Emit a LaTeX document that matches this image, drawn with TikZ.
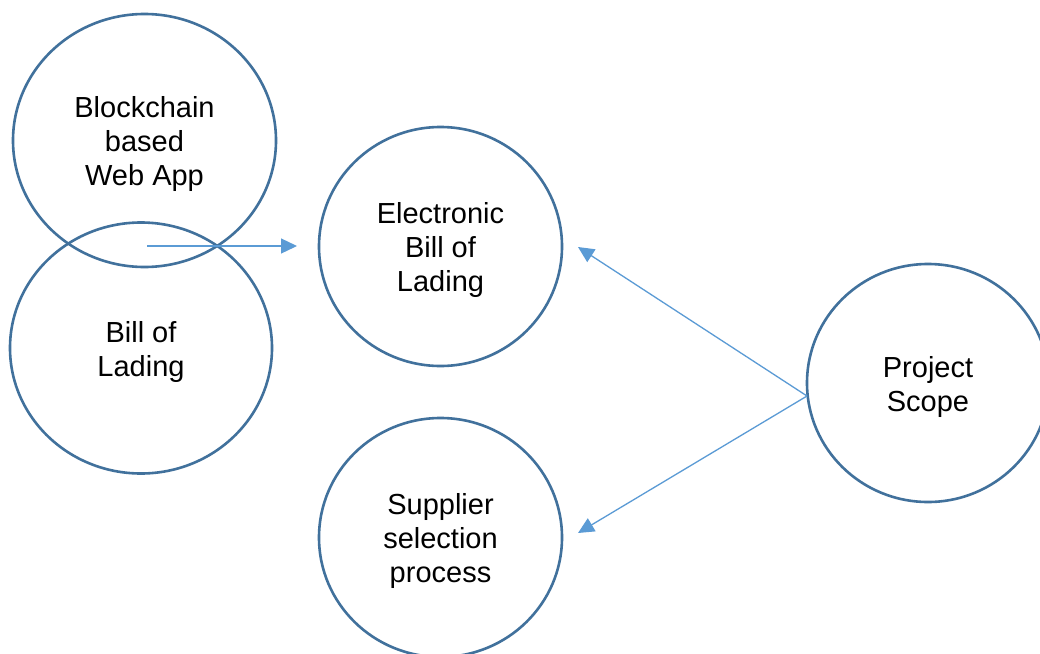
\documentclass[tikz,border=0pt]{standalone}
\usepackage{fontspec}
\setmainfont{Liberation Sans}
\usetikzlibrary{shapes.geometric,arrows.meta}
\definecolor{ringblue}{HTML}{41719C}
\definecolor{linkblue}{HTML}{5B9BD5}
\begin{document}
\begin{tikzpicture}[x=1pt,y=-1pt,
  bubble/.style={ellipse,draw=ringblue,line width=2.6pt,inner sep=0pt},
  caption/.style={align=center,inner sep=0pt,yshift=-3.5pt,
    font=\fontsize{29}{34}\selectfont},
  link/.style={draw=linkblue,line width=1.3pt,
    -{Triangle[length=16pt,width=15pt]}}]
\clip (0,0) rectangle (1040,653);
\useasboundingbox (0,0) rectangle (1040,653);
\fill[white] (0,0) rectangle (1040,653);

% circles
\node[bubble,minimum width=263pt,minimum height=253pt] (web) at (144.5,140.5) {};
\node[bubble,minimum width=262pt,minimum height=251pt] (bol) at (141,348) {};
\node[bubble,minimum width=243pt,minimum height=239pt] (ebol) at (440.5,246.5) {};
\node[bubble,minimum width=243pt,minimum height=239pt] (sup) at (440.5,537.5) {};
\node[bubble,minimum width=242pt,minimum height=238pt] (scope) at (928,383) {};

% circle captions
\node[caption] (webtxt) at (web.center) {Blockchain\\based\\Web App};
\node[caption] (boltxt) at (bol.center) {Bill of\\Lading};
\node[caption] (eboltxt) at (ebol.center) {Electronic\\Bill of\\Lading};
\node[caption] (suptxt) at (sup.center) {Supplier\\selection\\process};
\node[caption] (scopetxt) at (scope.center) {Project\\Scope};

% connector end points
\coordinate (merge) at (147,246);
\coordinate (ebolin) at (297,246);
\coordinate (scopeout) at (807,396);
\coordinate (ebolback) at (578,247);
\coordinate (supback) at (578,533);

% connectors
\draw[link] (merge) -- (ebolin);
\draw[link] (scopeout) -- (ebolback);
\draw[link] (scopeout) -- (supback);
\end{tikzpicture}
\end{document}
